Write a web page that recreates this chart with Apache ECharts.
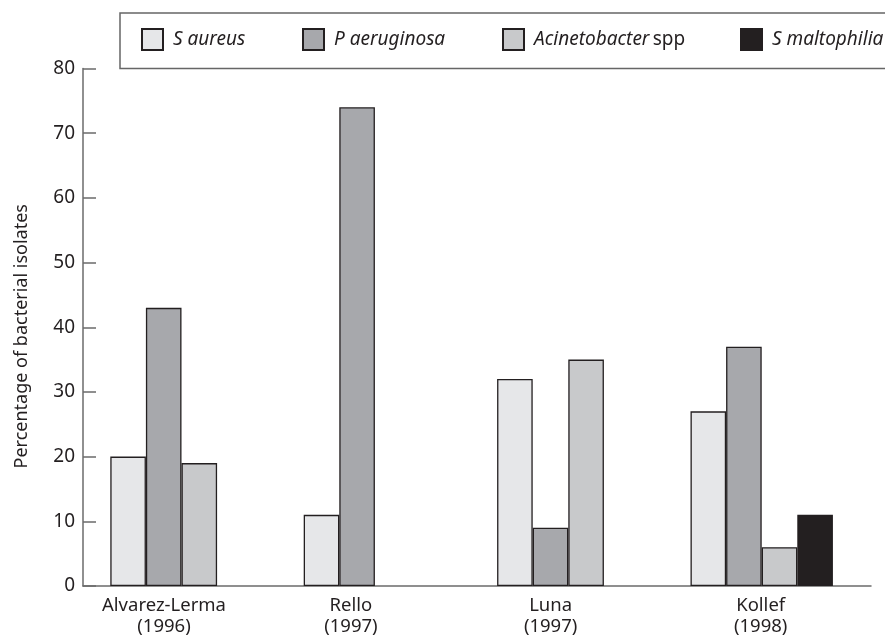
<!DOCTYPE html>
<html>
<head>
<meta charset="utf-8">
<script src="https://cdn.jsdelivr.net/npm/echarts@6/dist/echarts.min.js"></script>
<style>
html,body{margin:0;padding:0;background:#fff;}
#chart{width:885px;height:641px;}
</style>
</head>
<body>
<div id="chart"></div>
<script>
const studies = ['Alvarez-Lerma', 'Rello', 'Luna', 'Kollef'];
const years = ['(1996)', '(1997)', '(1997)', '(1998)'];
const seriesNames = ['S aureus', 'P aeruginosa', 'Acinetobacter spp', 'S maltophilia'];
const sAureus = [20, 11, 32, 27];
const pAeruginosa = [43, 74, 9, 37];
const acinetobacter = [19, null, 35, 6];
const sMaltophilia = [null, null, null, 11];
const yTicks = [0, 10, 20, 30, 40, 50, 60, 70, 80];

const colors = ['#e6e7e9', '#a7a8ac', '#c8c9cb', '#231f20'];
const seriesData = [sAureus, pAeruginosa, acinetobacter, sMaltophilia];
const labelShift = [17.5, 24, 17.7, 1];
const FONT = '"Noto Sans", sans-serif';

const chart = echarts.init(document.getElementById('chart'), null, {renderer: 'canvas'});

const rich = {};
labelShift.forEach((s, i) => {
  rich['c' + i] = {fontFamily: FONT, fontSize: 18.5, color: '#231f20', lineHeight: 21, padding: [0, s * 2, 0, 0]};
});

const legendLefts = [141, 302, 502, 740];
const legends = seriesNames.map((n, i) => ({
  data: [n],
  left: legendLefts[i],
  top: 28,
  itemWidth: 21,
  itemHeight: 21,
  icon: 'rect',
  selectedMode: false,
  padding: 0,
  formatter: function (name) {
    if (name === 'Acinetobacter spp') return '{i|Acinetobacter} {n|spp}';
    return '{i|' + name + '}';
  },
  textStyle: {
    rich: {
      i: {fontFamily: FONT, fontSize: 19, fontStyle: 'italic', color: '#231f20', padding: [0, 0, 0, 5]},
      n: {fontFamily: FONT, fontSize: 19, color: '#231f20'}
    }
  }
}));

const option = {
  animation: false,
  backgroundColor: '#fff',
  graphic: [{
    type: 'rect',
    shape: {x: 120, y: 13, width: 800, height: 55.5},
    style: {fill: 'none', stroke: '#666', lineWidth: 1.5},
    z: 0
  }],
  legend: legends,
  grid: [
    {left: 84.8, right: 26.6, top: 68.5, bottom: 55},
    {left: 83, right: 14, top: 68.5, bottom: 55}
  ],
  xAxis: [
    {
      type: 'category', gridIndex: 0, data: studies,
      axisLine: {show: false}, axisTick: {show: false},
      axisLabel: {
        margin: 9, interval: 0,
        formatter: function (v, idx) {
          return '{c' + idx + '|' + v + '}\n{c' + idx + '|' + years[idx] + '}';
        },
        rich: rich
      }
    },
    {
      type: 'value', gridIndex: 1, min: 0, max: 1,
      axisLine: {show: true, lineStyle: {color: '#6b6b6b', width: 1.5}},
      axisTick: {show: false}, axisLabel: {show: false}, splitLine: {show: false}
    }
  ],
  yAxis: [
    {type: 'value', gridIndex: 0, min: 0, max: 80, show: false},
    {
      type: 'value', gridIndex: 1, min: 0, max: 80, interval: 10,
      name: 'Percentage of bacterial isolates',
      nameLocation: 'middle', nameGap: 52, nameRotate: 90,
      nameTextStyle: {fontFamily: FONT, fontSize: 18, color: '#231f20', padding: [0, 18, 0, 0]},
      axisLine: {show: true, lineStyle: {color: '#6b6b6b', width: 1.5}},
      axisTick: {show: true, inside: true, length: 13, lineStyle: {color: '#6b6b6b', width: 1.5}},
      axisLabel: {
        margin: 8, fontFamily: FONT, fontSize: 19, color: '#231f20',
        customValues: yTicks
      },
      splitLine: {show: false}
    }
  ],
  series: seriesNames.map((n, i) => ({
    name: n,
    type: 'bar',
    xAxisIndex: 0,
    yAxisIndex: 0,
    data: seriesData[i],
    barWidth: 35.6,
    barGap: '0%',
    itemStyle: {color: colors[i], borderColor: '#231f20', borderWidth: 1.3}
  }))
};
chart.setOption(option);
</script>
</body>
</html>
